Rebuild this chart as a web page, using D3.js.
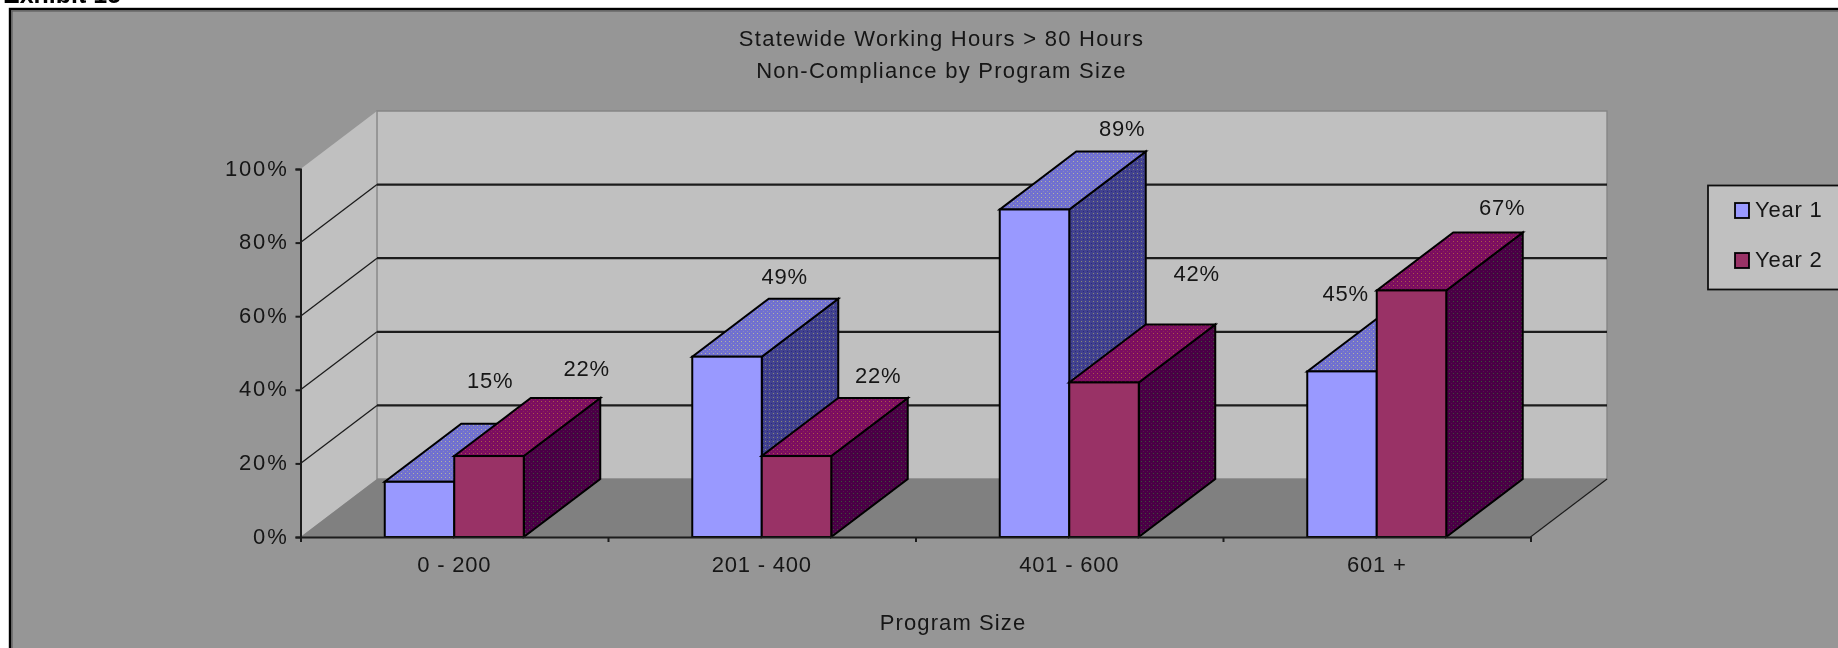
<!DOCTYPE html>
<html><head><meta charset="utf-8">
<script src="https://cdn.jsdelivr.net/npm/d3@7/dist/d3.min.js"></script>
<style>html,body{margin:0;padding:0;background:#fff;overflow:hidden}svg{display:block}text{font-family:"Liberation Sans",Arial,sans-serif;fill:#151515}</style>
</head><body><div id="chart"></div>
<script>
const exhibitLabel = "Exhibit 15";
const titleLines = ["Statewide Working Hours > 80 Hours", "Non-Compliance by Program Size"];
const xAxisTitle = "Program Size";
const categories = ["0 - 200", "201 - 400", "401 - 600", "601 +"];
const seriesNames = ["Year 1", "Year 2"];
const year1Values = [15, 49, 89, 45];
const year2Values = [22, 22, 42, 67];
const yTicks = [0, 20, 40, 60, 80, 100];

const W = 1838, H = 648;
const plot = {left: 300.5, right: 1530.5, top: 169, bottom: 537};
const depth = {dx: 76.5, dy: -58};
const barWidth = 69.5;
const fontSize = 22, spacing = 0.8;
const colors = {
  bg: "#969696", wall: "#c0c0c0", floor: "#808080", line: "#1c1c1c",
  fronts: ["#9999ff", "#993366"]
};
// hand-placed label nudges, as in the source chart (from bar top-right front corner)
const labelNudge = [
  [[36, -101], [63, -88]],
  [[23, -80], [47, -81]],
  [[53, -81], [58, -109]],
  [[-31, -78], [56, -83]]
];

const values = [year1Values, year2Values];
const x = d3.scaleBand().domain(categories).range([plot.left, plot.right]);
const xEdges = d3.scaleLinear().domain([0, categories.length]).range([plot.left, plot.right]);
const y = d3.scaleLinear().domain([0, 100]).range([plot.bottom, plot.top]);
const inner = d3.scaleBand().domain(d3.range(seriesNames.length)).range([-barWidth, barWidth]);

const svg = d3.select("#chart").append("svg").attr("width", W).attr("height", H);
const defs = svg.append("defs");
defs.append("filter").attr("id", "soft")
  .attr("filterUnits", "userSpaceOnUse").attr("x", 0).attr("y", 0).attr("width", W).attr("height", H)
  .append("feGaussianBlur").attr("stdDeviation", 0.45);

function dither(id, base, dot, cross, size) {
  const p = defs.append("pattern").attr("id", id).attr("patternUnits", "userSpaceOnUse")
    .attr("width", size).attr("height", size);
  p.append("rect").attr("width", size).attr("height", size).attr("fill", base);
  p.append("rect").attr("x", 1).attr("y", 1).attr("width", 1).attr("height", 1).attr("fill", dot);
  p.append("rect").attr("x", size / 2 + 1).attr("y", size / 2 + 1).attr("width", 1).attr("height", 1).attr("fill", cross);
}
dither("topA", "#7070d0", "#b4b4a0", "#8c8cb8", 4);
dither("sideA", "#43438f", "#8a8a78", "#2c2c7c", 4);
dither("topB", "#7c1060", "#aa5a4a", "#8a2a55", 4);
dither("sideB", "#4a0644", "#3c5038", "#5c0850", 4);

const root = svg.append("g").attr("filter", "url(#soft)");

root.append("text").text(exhibitLabel).attr("x", 3).attr("y", 3)
  .attr("font-size", 25).attr("font-weight", "bold").style("fill", "#000");

root.append("rect").attr("x", 10).attr("y", 9).attr("width", W + 20).attr("height", H + 20)
  .attr("fill", colors.bg).attr("stroke", "#000").attr("stroke-width", 2.4);
root.append("rect").attr("x", 12).attr("y", 11).attr("width", W + 20).attr("height", H + 20)
  .attr("fill", "none").attr("stroke", "#5c5c5c").attr("stroke-width", 1.2);

const poly = pts => d3.line()(pts) + "Z";
const bx = plot.left + depth.dx, brx = plot.right + depth.dx;
const backY = v => y(v) + depth.dy;

// walls and floor
root.append("path").attr("fill", colors.wall).attr("stroke", "none")
  .attr("d", poly([[plot.left, y(0)], [bx, backY(0)], [bx, backY(100)], [plot.left, y(100)]]));
root.append("path").attr("fill", colors.wall).attr("stroke", "#858585").attr("stroke-width", 1.4)
  .attr("d", poly([[bx, backY(0)], [brx, backY(0)], [brx, backY(100)], [bx, backY(100)]]));
root.append("path").attr("fill", colors.floor)
  .attr("d", poly([[plot.left, y(0)], [plot.right, y(0)], [brx, backY(0)], [bx, backY(0)]]));

// grid lines
const grid = root.append("g").attr("fill", "none").attr("stroke", colors.line);
yTicks.filter(t => t > 0 && t < 100).forEach(t => {
  grid.append("path").attr("stroke-width", 1.3).attr("d", d3.line()([[plot.left, y(t)], [bx, backY(t)]]));
  grid.append("path").attr("stroke-width", 2.2).attr("d", d3.line()([[bx, backY(t)], [brx, backY(t)]]));
});
root.append("path").attr("fill", "none").attr("stroke", colors.line).attr("stroke-width", 1.2)
  .attr("d", d3.line()([[plot.right, y(0)], [brx, backY(0)]]));

// bars
categories.forEach((c, ci) => {
  seriesNames.forEach((s, si) => {
    const v = values[si][ci];
    const x0 = x(c) + x.bandwidth() / 2 + inner(si), x1 = x0 + inner.bandwidth();
    const yt = y(v), yb = y(0);
    const g = root.append("g").attr("stroke", "#000").attr("stroke-width", 2).attr("stroke-linejoin", "miter");
    g.append("path").attr("fill", si ? "url(#sideB)" : "url(#sideA)")
      .attr("d", poly([[x1, yb], [x1 + depth.dx, yb + depth.dy], [x1 + depth.dx, yt + depth.dy], [x1, yt]]));
    g.append("path").attr("fill", si ? "url(#topB)" : "url(#topA)")
      .attr("d", poly([[x0, yt], [x1, yt], [x1 + depth.dx, yt + depth.dy], [x0 + depth.dx, yt + depth.dy]]));
    g.append("rect").attr("x", x0).attr("y", yt).attr("width", x1 - x0).attr("height", yb - yt)
      .attr("fill", colors.fronts[si]);
  });
});

// axes
const yAxis = d3.axisLeft(y).tickValues(yTicks).tickFormat(d => d + "%").tickSize(5).tickPadding(7);
const gy = root.append("g").attr("transform", `translate(${plot.left},0)`).call(yAxis);
gy.selectAll("text").attr("font-size", fontSize).attr("letter-spacing", 1.8).attr("dy", "0.28em");
gy.attr("font-family", null);
gy.selectAll("path,line").attr("stroke", colors.line).attr("stroke-width", 2);

const xAxis = d3.axisBottom(xEdges).tickValues(d3.range(categories.length + 1)).tickFormat("").tickSize(5).tickSizeOuter(5);
const gx = root.append("g").attr("transform", `translate(0,${plot.bottom})`).call(xAxis);
gx.selectAll("path,line").attr("stroke", colors.line).attr("stroke-width", 2);

const spaced = (sel, ls = spacing) => sel.attr("font-size", fontSize).attr("letter-spacing", ls).attr("text-anchor", "middle").attr("dominant-baseline", "central");

root.append("g").selectAll("text").data(categories).join("text")
  .text(d => d).attr("x", d => x(d) + x.bandwidth() / 2).attr("y", 564).call(spaced);

// value labels
categories.forEach((c, ci) => {
  seriesNames.forEach((s, si) => {
    const v = values[si][ci];
    const corner = x(c) + x.bandwidth() / 2 + inner(si) + inner.bandwidth();
    root.append("text").text(v + "%")
      .attr("x", corner + labelNudge[ci][si][0]).attr("y", y(v) + labelNudge[ci][si][1]).call(spaced);
  });
});

// titles
titleLines.forEach((t, i) => {
  root.append("text").text(t).attr("x", 941.5).attr("y", 38.5 + i * 32).call(spaced, 1.27);
});
root.append("text").text(xAxisTitle).attr("x", 953).attr("y", 622.5).call(spaced, 1.1);

// legend
root.append("rect").attr("x", 1708).attr("y", 185.5).attr("width", 160).attr("height", 104)
  .attr("fill", colors.wall).attr("stroke", "#111").attr("stroke-width", 1.8);
seriesNames.forEach((s, i) => {
  const cy = 210.5 + i * 50;
  root.append("rect").attr("x", 1735).attr("y", cy - 7.5).attr("width", 14).attr("height", 15)
    .attr("fill", colors.fronts[i]).attr("stroke", "#000").attr("stroke-width", 1.8);
  root.append("text").text(s).attr("x", 1755).attr("y", cy - 1).attr("font-size", fontSize)
    .attr("letter-spacing", spacing).attr("dominant-baseline", "central");
});
</script></body></html>
